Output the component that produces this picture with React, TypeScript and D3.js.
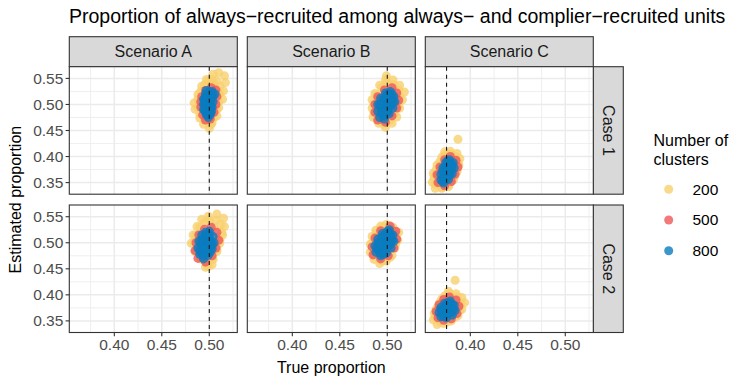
// Faceted scatter: estimated vs true proportion of always-recruited units,
// by scenario (columns), case (rows) and number of clusters (colour).
import React from "react";
import * as d3 from "d3";

type Pt = [number, number];

const scenarios = ["Scenario A", "Scenario B", "Scenario C"];
const cases = ["Case 1", "Case 2"];
const clusterCounts = ["200", "500", "800"];
const trueProportion = [0.5, 0.5, 0.375];

const xTicks = [0.4, 0.45, 0.5];
const xMinorTicks = [0.375, 0.425, 0.475, 0.525];
const yTicks = [0.35, 0.4, 0.45, 0.5, 0.55];
const yMinorTicks = [0.375, 0.425, 0.475, 0.525];

// Scenario A, Case 1
const a1n200: Pt[] = [
  [0.510, 0.561], [0.516, 0.555], [0.517, 0.542], [0.515, 0.526], [0.514, 0.510],
  [0.510, 0.494], [0.508, 0.478], [0.502, 0.462], [0.500, 0.454], [0.494, 0.462],
  [0.490, 0.474], [0.485, 0.491], [0.484, 0.503], [0.488, 0.519], [0.492, 0.535],
  [0.497, 0.548], [0.504, 0.558], [0.500, 0.500], [0.505, 0.540], [0.495, 0.480],
  [0.510, 0.520], [0.490, 0.500], [0.503, 0.465],
  [0.503, 0.548], [0.508, 0.545], [0.511, 0.535], [0.511, 0.520], [0.510, 0.505],
  [0.508, 0.490], [0.505, 0.475], [0.500, 0.465], [0.495, 0.470], [0.490, 0.482],
  [0.488, 0.495], [0.488, 0.510], [0.491, 0.525], [0.495, 0.538], [0.499, 0.545]
];
const a1n500: Pt[] = [
  [0.491, 0.495], [0.491, 0.505], [0.493, 0.480], [0.496, 0.470], [0.501, 0.472],
  [0.505, 0.485], [0.507, 0.500], [0.508, 0.515], [0.507, 0.528], [0.502, 0.532],
  [0.496, 0.527], [0.492, 0.515], [0.499, 0.500], [0.500, 0.490]
];
const a1n800: Pt[] = [
  [0.494, 0.490], [0.494, 0.500], [0.494, 0.510], [0.497, 0.480], [0.499, 0.490],
  [0.499, 0.500], [0.499, 0.510], [0.500, 0.520], [0.503, 0.525], [0.504, 0.515],
  [0.504, 0.505], [0.503, 0.495], [0.502, 0.485], [0.499, 0.475], [0.496, 0.520],
  [0.506, 0.520], [0.496, 0.485], [0.496, 0.495], [0.496, 0.505], [0.496, 0.515],
  [0.501, 0.480], [0.501, 0.492], [0.501, 0.505], [0.501, 0.515], [0.497, 0.527],
  [0.495, 0.490], [0.495, 0.500], [0.495, 0.510], [0.498, 0.482], [0.498, 0.495],
  [0.498, 0.505], [0.498, 0.518], [0.502, 0.488], [0.502, 0.498], [0.502, 0.510],
  [0.503, 0.520], [0.500, 0.525]
];

// Scenario B, Case 1
const b1n200: Pt[] = [
  [0.499, 0.555], [0.506, 0.547], [0.513, 0.537], [0.518, 0.524], [0.516, 0.509],
  [0.513, 0.493], [0.510, 0.476], [0.505, 0.464], [0.498, 0.456], [0.491, 0.464],
  [0.485, 0.476], [0.484, 0.493], [0.484, 0.509], [0.487, 0.521], [0.492, 0.537],
  [0.498, 0.547], [0.500, 0.500], [0.495, 0.490], [0.505, 0.510], [0.503, 0.485],
  [0.492, 0.515],
  [0.500, 0.543], [0.507, 0.538], [0.512, 0.528], [0.513, 0.515], [0.512, 0.500],
  [0.508, 0.483], [0.503, 0.470], [0.496, 0.463], [0.489, 0.470], [0.486, 0.485],
  [0.486, 0.502], [0.489, 0.518], [0.494, 0.532]
];
const b1n500: Pt[] = [
  [0.505, 0.532], [0.510, 0.522], [0.512, 0.508], [0.510, 0.493], [0.505, 0.478],
  [0.498, 0.466], [0.490, 0.470], [0.487, 0.485], [0.487, 0.500], [0.490, 0.515],
  [0.497, 0.528], [0.500, 0.500]
];
const b1n800: Pt[] = [
  [0.503, 0.525], [0.507, 0.515], [0.508, 0.505], [0.506, 0.493], [0.502, 0.482],
  [0.497, 0.472], [0.492, 0.475], [0.490, 0.487], [0.490, 0.500], [0.493, 0.512],
  [0.498, 0.522], [0.499, 0.500], [0.499, 0.488], [0.503, 0.508], [0.495, 0.500],
  [0.495, 0.480], [0.494, 0.492], [0.496, 0.510], [0.501, 0.515], [0.504, 0.498],
  [0.501, 0.492], [0.500, 0.520], [0.505, 0.520],
  [0.494, 0.485], [0.496, 0.495], [0.497, 0.505], [0.497, 0.478], [0.500, 0.485],
  [0.502, 0.500], [0.504, 0.512], [0.502, 0.520], [0.498, 0.514], [0.492, 0.500],
  [0.506, 0.505]
];

// Scenario C, Case 1
const c1n200: Pt[] = [
  [0.379, 0.410], [0.386, 0.406], [0.389, 0.396], [0.388, 0.384], [0.386, 0.371],
  [0.382, 0.355], [0.377, 0.342], [0.370, 0.339], [0.363, 0.339], [0.360, 0.351],
  [0.361, 0.368], [0.365, 0.384], [0.370, 0.399], [0.373, 0.409], [0.387, 0.433],
  [0.375, 0.380], [0.370, 0.365], [0.380, 0.390], [0.378, 0.360],
  [0.378, 0.405], [0.384, 0.400], [0.387, 0.389], [0.386, 0.375], [0.383, 0.360],
  [0.378, 0.347], [0.370, 0.342], [0.363, 0.347], [0.362, 0.360], [0.364, 0.375],
  [0.368, 0.390], [0.373, 0.402]
];
const c1n500: Pt[] = [
  [0.379, 0.400], [0.385, 0.393], [0.387, 0.380], [0.384, 0.366], [0.380, 0.352],
  [0.373, 0.344], [0.366, 0.350], [0.365, 0.365], [0.368, 0.380], [0.373, 0.394],
  [0.376, 0.372]
];
const c1n800: Pt[] = [
  [0.378, 0.394], [0.382, 0.388], [0.383, 0.378], [0.381, 0.367], [0.377, 0.356],
  [0.372, 0.349], [0.369, 0.355], [0.369, 0.366], [0.371, 0.378], [0.374, 0.388],
  [0.376, 0.372], [0.376, 0.362], [0.372, 0.358], [0.373, 0.368], [0.379, 0.380],
  [0.379, 0.388], [0.373, 0.380], [0.379, 0.372],
  [0.371, 0.352], [0.372, 0.362], [0.371, 0.372], [0.375, 0.366], [0.375, 0.376],
  [0.377, 0.384], [0.380, 0.376], [0.381, 0.384], [0.376, 0.392], [0.378, 0.364],
  [0.374, 0.356]
];

// Scenario A, Case 2
const a2n200: Pt[] = [
  [0.499, 0.551], [0.508, 0.555], [0.515, 0.547], [0.516, 0.531], [0.514, 0.515],
  [0.511, 0.499], [0.508, 0.483], [0.504, 0.468], [0.499, 0.455], [0.492, 0.468],
  [0.485, 0.483], [0.481, 0.499], [0.483, 0.515], [0.487, 0.531], [0.492, 0.545],
  [0.498, 0.500], [0.505, 0.530], [0.493, 0.485], [0.508, 0.505], [0.490, 0.510],
  [0.503, 0.458], [0.496, 0.453],
  [0.500, 0.543], [0.507, 0.543], [0.512, 0.535], [0.513, 0.520], [0.511, 0.505],
  [0.508, 0.488], [0.503, 0.470], [0.498, 0.460], [0.491, 0.470], [0.486, 0.484],
  [0.484, 0.500], [0.486, 0.515], [0.490, 0.530], [0.495, 0.540]
];
const a2n500: Pt[] = [
  [0.502, 0.530], [0.508, 0.520], [0.510, 0.505], [0.507, 0.490], [0.503, 0.475],
  [0.496, 0.463], [0.488, 0.470], [0.485, 0.485], [0.486, 0.500], [0.489, 0.515],
  [0.495, 0.526], [0.498, 0.500]
];
const a2n800: Pt[] = [
  [0.500, 0.522], [0.504, 0.512], [0.505, 0.500], [0.503, 0.488], [0.499, 0.476],
  [0.494, 0.469], [0.490, 0.478], [0.488, 0.490], [0.489, 0.503], [0.492, 0.515],
  [0.496, 0.520], [0.497, 0.500], [0.497, 0.485], [0.500, 0.510], [0.492, 0.480],
  [0.492, 0.495], [0.493, 0.508], [0.501, 0.495], [0.501, 0.505], [0.501, 0.482],
  [0.498, 0.516],
  [0.490, 0.485], [0.491, 0.500], [0.494, 0.475], [0.495, 0.490], [0.495, 0.505],
  [0.496, 0.515], [0.499, 0.490], [0.499, 0.500], [0.502, 0.500], [0.500, 0.516],
  [0.503, 0.495], [0.497, 0.480]
];

// Scenario B, Case 2
const b2n200: Pt[] = [
  [0.499, 0.535], [0.506, 0.530], [0.512, 0.520], [0.511, 0.505], [0.508, 0.490],
  [0.505, 0.476], [0.499, 0.465], [0.492, 0.460], [0.486, 0.468], [0.482, 0.482],
  [0.482, 0.497], [0.484, 0.512], [0.488, 0.524], [0.493, 0.532], [0.497, 0.500],
  [0.503, 0.505], [0.493, 0.485],
  [0.500, 0.530], [0.508, 0.520], [0.509, 0.498], [0.503, 0.472], [0.495, 0.465],
  [0.486, 0.475], [0.484, 0.498], [0.488, 0.518], [0.495, 0.530]
];
const b2n500: Pt[] = [
  [0.503, 0.532], [0.509, 0.522], [0.510, 0.507], [0.507, 0.490], [0.501, 0.475],
  [0.493, 0.469], [0.485, 0.477], [0.484, 0.492], [0.487, 0.509], [0.493, 0.523],
  [0.498, 0.500]
];
const b2n800: Pt[] = [
  [0.502, 0.525], [0.506, 0.515], [0.507, 0.503], [0.504, 0.490], [0.499, 0.480],
  [0.493, 0.475], [0.488, 0.482], [0.487, 0.494], [0.490, 0.507], [0.495, 0.518],
  [0.498, 0.500], [0.500, 0.512], [0.495, 0.490], [0.491, 0.485], [0.492, 0.498],
  [0.494, 0.510], [0.503, 0.497], [0.503, 0.508], [0.502, 0.520], [0.497, 0.485],
  [0.489, 0.490], [0.490, 0.500], [0.493, 0.480], [0.494, 0.493], [0.496, 0.504],
  [0.497, 0.515], [0.500, 0.490], [0.501, 0.504], [0.505, 0.505], [0.504, 0.515],
  [0.500, 0.522], [0.496, 0.478]
];

// Scenario C, Case 2
const c2n200: Pt[] = [
  [0.377, 0.407], [0.385, 0.402], [0.391, 0.395], [0.394, 0.385], [0.391, 0.372],
  [0.387, 0.360], [0.380, 0.350], [0.372, 0.345], [0.365, 0.343], [0.361, 0.352],
  [0.362, 0.365], [0.366, 0.378], [0.370, 0.392], [0.374, 0.370], [0.380, 0.380],
  [0.370, 0.360], [0.384, 0.428],
  [0.378, 0.402], [0.386, 0.396], [0.390, 0.385], [0.389, 0.370], [0.384, 0.357],
  [0.376, 0.348], [0.368, 0.348], [0.363, 0.358], [0.364, 0.372], [0.368, 0.386],
  [0.373, 0.398]
];
const c2n500: Pt[] = [
  [0.378, 0.396], [0.385, 0.390], [0.388, 0.378], [0.386, 0.364], [0.380, 0.354],
  [0.372, 0.351], [0.366, 0.356], [0.364, 0.368], [0.367, 0.381], [0.372, 0.391],
  [0.376, 0.372]
];
const c2n800: Pt[] = [
  [0.379, 0.388], [0.383, 0.380], [0.384, 0.370], [0.381, 0.361], [0.375, 0.356],
  [0.369, 0.358], [0.367, 0.366], [0.369, 0.376], [0.373, 0.384], [0.376, 0.370],
  [0.372, 0.362], [0.371, 0.372], [0.375, 0.380], [0.380, 0.377], [0.380, 0.366],
  [0.378, 0.384],
  [0.370, 0.366], [0.372, 0.358], [0.373, 0.370], [0.374, 0.378], [0.377, 0.364],
  [0.378, 0.374], [0.382, 0.372], [0.381, 0.382], [0.376, 0.385], [0.369, 0.372]
];

// rows = cases, columns = scenarios, inner = cluster counts
const panelPoints: Pt[][][][] = [
  [[a1n200, a1n500, a1n800], [b1n200, b1n500, b1n800], [c1n200, c1n500, c1n800]],
  [[a2n200, a2n500, a2n800], [b2n200, b2n500, b2n800], [c2n200, c2n500, c2n800]]
];

const colors = ["#F7CF6D", "#F05659", "#0A7CBF"];
const font = "'Liberation Sans', Arial, Helvetica, sans-serif";

const panelLeft = [69.3, 247.3, 425.3];
const panelTop = [66.7, 205];
const panelW = 168;
const panelH = 127.5;
const stripH = 30;

export default function App() {
  const x = d3.scaleLinear().domain([0.3526, 0.5295]).range([0, panelW]);
  const y = d3.scaleLinear().domain([0.3277, 0.5725]).range([panelH, 0]);
  const fmt = d3.format(".2f");

  return (
    <svg width={747} height={386} style={{ position: "absolute", left: 0, top: 0, background: "#fff" }}
      fontFamily={font}>
      <text x={69} y={23} fontSize={19.5} fill="#000">
        Proportion of always−recruited among always− and complier−recruited units
      </text>

      {scenarios.map((s, si) => (
        <g key={s} transform={`translate(${panelLeft[si]},${panelTop[0] - stripH})`}>
          <rect width={panelW} height={stripH} fill="#D9D9D9" stroke="#333" strokeWidth={1.1} />
          <text x={panelW / 2} y={stripH / 2} dy="0.35em" textAnchor="middle" fontSize={16} fill="#1A1A1A">{s}</text>
        </g>
      ))}

      {cases.map((c, ci) => (
        <g key={c} transform={`translate(${panelLeft[2] + panelW},${panelTop[ci]})`}>
          <rect width={stripH} height={panelH} fill="#D9D9D9" stroke="#333" strokeWidth={1.1} />
          <text transform={`translate(${stripH / 2},${panelH / 2}) rotate(90)`} dy="0.35em" textAnchor="middle"
            fontSize={16} fill="#1A1A1A">{c}</text>
        </g>
      ))}

      {cases.map((c, ci) => scenarios.map((s, si) => (
        <g key={c + s} transform={`translate(${panelLeft[si]},${panelTop[ci]})`}>
          <clipPath id={`clip-${ci}-${si}`}>
            <rect width={panelW} height={panelH} />
          </clipPath>
          <rect width={panelW} height={panelH} fill="#fff" />
          {xMinorTicks.map(t => (
            <line key={"xm" + t} x1={x(t)} x2={x(t)} y1={0} y2={panelH} stroke="#EBEBEB" strokeWidth={0.8} />
          ))}
          {yMinorTicks.map(t => (
            <line key={"ym" + t} x1={0} x2={panelW} y1={y(t)} y2={y(t)} stroke="#EBEBEB" strokeWidth={0.8} />
          ))}
          {xTicks.map(t => (
            <line key={"x" + t} x1={x(t)} x2={x(t)} y1={0} y2={panelH} stroke="#EBEBEB" strokeWidth={1.5} />
          ))}
          {yTicks.map(t => (
            <line key={"y" + t} x1={0} x2={panelW} y1={y(t)} y2={y(t)} stroke="#EBEBEB" strokeWidth={1.5} />
          ))}
          <g clipPath={`url(#clip-${ci}-${si})`}>
            {panelPoints[ci][si].map((pts, gi) => (
              <g key={gi} fill={colors[gi]} fillOpacity={0.8}>
                {pts.map((p, i) => <circle key={i} cx={x(p[0])} cy={y(p[1])} r={4.5} />)}
              </g>
            ))}
            <line x1={x(trueProportion[si])} x2={x(trueProportion[si])} y1={0} y2={panelH}
              stroke="#1A1A1A" strokeWidth={1.1} strokeDasharray="4,4" />
          </g>
          <rect width={panelW} height={panelH} fill="none" stroke="#333" strokeWidth={1.1} />

          {si === 0 && yTicks.map(t => (
            <g key={"yt" + t} transform={`translate(0,${y(t)})`}>
              <line x1={-3.7} x2={0} stroke="#333" strokeWidth={1.1} />
              <text x={-6} dy="0.35em" textAnchor="end" fontSize={15.5} fill="#4D4D4D">{fmt(t)}</text>
            </g>
          ))}
          {ci === 1 && xTicks.map(t => (
            <g key={"xt" + t} transform={`translate(${x(t)},${panelH})`}>
              <line y1={0} y2={3.7} stroke="#333" strokeWidth={1.1} />
              <text y={17.5} textAnchor="middle" fontSize={15.5} fill="#4D4D4D">{fmt(t)}</text>
            </g>
          ))}
        </g>
      )))}

      <text x={(panelLeft[0] + panelLeft[2] + panelW) / 2} y={373} textAnchor="middle" fontSize={16} fill="#000">
        True proportion
      </text>
      <text transform={`translate(21,${(panelTop[0] + panelTop[1] + panelH) / 2}) rotate(-90)`} textAnchor="middle"
        fontSize={16} fill="#000">
        Estimated proportion
      </text>

      <g transform="translate(653.5,0)">
        <text y={146} fontSize={16} fill="#000">
          <tspan x={0}>Number of</tspan>
          <tspan x={0} dy={18.5}>clusters</tspan>
        </text>
        {clusterCounts.map((n, i) => (
          <g key={n} transform={`translate(0,${189.3 + i * 30.7})`}>
            <circle cx={15.2} cy={0} r={4.5} fill={colors[i]} fillOpacity={0.8} />
            <text x={39} dy="0.35em" fontSize={15.5} fill="#000">{n}</text>
          </g>
        ))}
      </g>
    </svg>
  );
}
